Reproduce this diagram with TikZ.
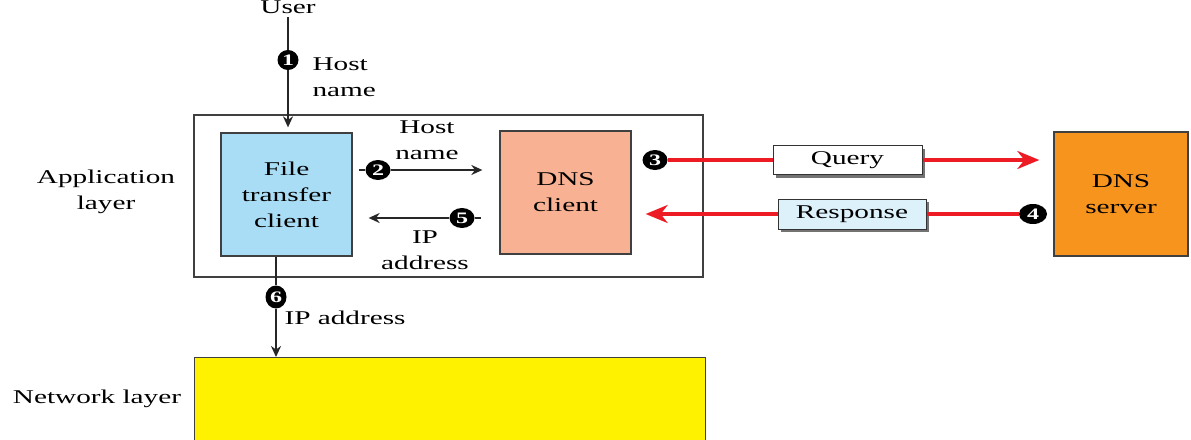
\documentclass[tikz,border=0pt]{standalone}
\usepackage{fontspec}
\setmainfont[FakeStretch=1.5]{Liberation Serif}
\usepackage{tikz}
\usetikzlibrary{arrows.meta,shapes.geometric,shadows}

\definecolor{ftcblue}{HTML}{A9DDF6}
\definecolor{dnsclient}{HTML}{F8B293}
\definecolor{dnsserver}{HTML}{F7941E}
\definecolor{respblue}{HTML}{DDF1FA}
\definecolor{msgred}{HTML}{ED1C24}

\begin{document}
\begin{tikzpicture}[x=1pt, y=-1pt,
    font=\fontsize{19.5}{26}\selectfont,
    box/.style={draw=black!75, line width=1.3pt, align=center, inner sep=0pt},
    num/.style={ellipse, fill=black, text=white, inner sep=0pt, minimum width=25pt,
      minimum height=20pt, font=\fontsize{16}{16}\selectfont\bfseries},
    msg/.style={draw=black!80, line width=1pt, inner sep=0pt,
      drop shadow={shadow xshift=3pt, shadow yshift=-3pt, fill=black!55, opacity=1}},
    link/.style={line width=1.8pt, black!85},
    arr/.style={link, -{Stealth[length=11pt,width=10pt]}},
    redarr/.style={-{Stealth[length=22pt,width=18pt,inset=7pt]}, line width=3.5pt, msgred}]
      \useasboundingbox (0,0) rectangle (1191,439);

      \node[box, line width=1.1pt, minimum width=509pt, minimum height=162pt] (app) at (448.5,196) {};
      \node[box, fill=ftcblue, minimum width=131pt, minimum height=123pt] (ftc) at (286.5,194.5) {File\\transfer\\client};
      \node[box, fill=dnsclient, minimum width=131pt, minimum height=123pt] (dnsc) at (565.5,192.5) {DNS\\client};
      \node[box, fill=dnsserver, minimum width=134pt, minimum height=124pt] (dnss) at (1121,194) {DNS\\server};
      \node[box, fill=yellow, minimum width=511pt, minimum height=100pt, anchor=north west] (net) at (194,357) {};

      \node (applbl) at (106,192) [align=center] {Application\\layer};
      \node (netlbl) at (97,399) {Network layer};
      \node (user) at (288,7) {User};

      \node[num, minimum width=21pt] (n1) at (288,60) {1};
      \node[num] (n2) at (378,170) {2};
      \node[num] (n3) at (655,160) {3};
      \node[num, minimum width=28pt] (n4) at (1033,214) {4};
      \node[num] (n5) at (462,218) {5};
      \node[num, minimum width=21pt, minimum height=23pt] (n6) at (276,297) {6};

      \node[anchor=west, align=left] (hn1) at (309,77) {Host\\name};
      \node[align=center] (hn2) at (427,140) {Host\\name};
      \node[align=center] (ip5) at (425,250) {IP\\address};
      \node[anchor=west] (ip6) at (281,318) {IP address};

      \node[msg, fill=white, minimum width=149pt, minimum height=29pt] (query) at (847.5,160) {Query};
      \node[msg, fill=respblue, minimum width=148pt, minimum height=30pt] (resp) at (852,214) {Response};

      \draw[link] (user) -- (n1.north);
      \draw[arr, shorten >=5pt] (n1.south) -- (n1 |- ftc.north);
      \draw[link] (n2.west) -- ++(-6,0);
      \draw[arr, shorten >=17pt] (n2.east) -- (n2 -| dnsc.west);
      \draw[link] (n5.east) -- ++(6,0);
      \draw[arr, shorten >=16pt] (n5.west) -- (n5 -| ftc.east);
      \draw[link] (n6 |- ftc.south) -- (n6.north);
      \draw[arr] (n6.south) -- (n6 |- net.north);

      \draw[line width=3.5pt, msgred] (n3.east) -- (query.west);
      \draw[redarr, shorten >=14pt] (query.east) -- (query -| dnss.west);
      \draw[line width=3.5pt, msgred] (n4.west) -- (resp.east);
      \draw[redarr, shorten >=14pt] (resp.west) -- (resp -| dnsc.east);
    \end{tikzpicture}
\end{document}
